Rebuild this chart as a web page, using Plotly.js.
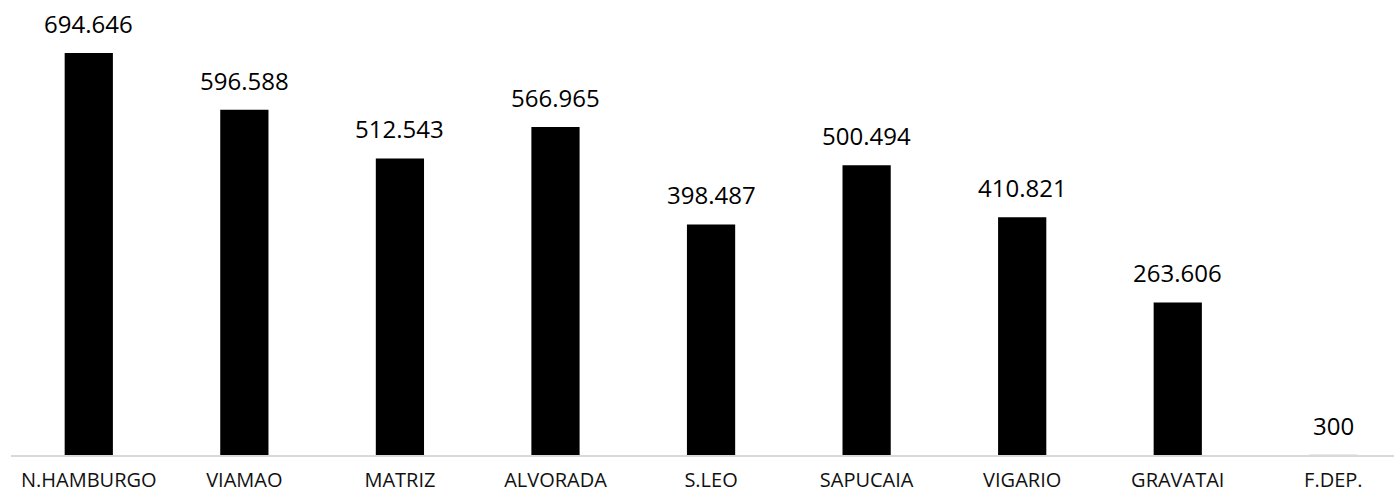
<!DOCTYPE html>
<html><head><meta charset="utf-8">
<script src="https://cdn.plot.ly/plotly-3.0.1.min.js"></script>
<style>html,body{margin:0;padding:0;background:#fff}#c{width:1394px;height:496px}</style>
</head><body><div id="c"></div>
<script>
const categories = ["N.HAMBURGO","VIAMAO","MATRIZ","ALVORADA","S.LEO","SAPUCAIA","VIGARIO","GRAVATAI","F.DEP."];
const values = [694646, 596588, 512543, 566965, 398487, 500494, 410821, 263606, 300];
const labels = ["694.646","596.588","512.543","566.965","398.487","500.494","410.821","263.606","300"];

const font = "Open Sans, Noto Sans, sans-serif";
const trace = {
  type: "bar",
  x: categories.map((c,i)=>i),
  y: values,
  marker: {color: values.map(v => v < 1000 ? "#a6a6a6" : "#000000"), line:{width:0}},
  hoverinfo: "skip"
};
const annotations = values.map((v,i)=>({
  x: i, y: v, xref: "x", yref: "y", text: labels[i], showarrow: false,
  yanchor: "bottom", yshift: 11, font: {family: font, size: 24, color: "#000"}
}));
const layout = {
  width: 1394, height: 496,
  margin: {l: 11, r: 0, t: 10, b: 41},
  paper_bgcolor: "#fff", plot_bgcolor: "#fff",
  bargap: 0.69,
  showlegend: false,
  xaxis: {
    range: [-0.5, 8.39], tickmode: "array", tickvals: categories.map((c,i)=>i), ticktext: categories,
    showgrid: false, zeroline: false, showline: true, linecolor: "#d9d9d9", linewidth: 1.5,
    ticks: "", ticklabelstandoff: 6,
    tickfont: {family: font, size: 20, color: "#111"}
  },
  yaxis: {range: [0, 768960], visible: false, showgrid: false, zeroline: false},
  annotations: annotations
};
Plotly.newPlot("c", [trace], layout, {displayModeBar: false, staticPlot: true});
</script></body></html>
